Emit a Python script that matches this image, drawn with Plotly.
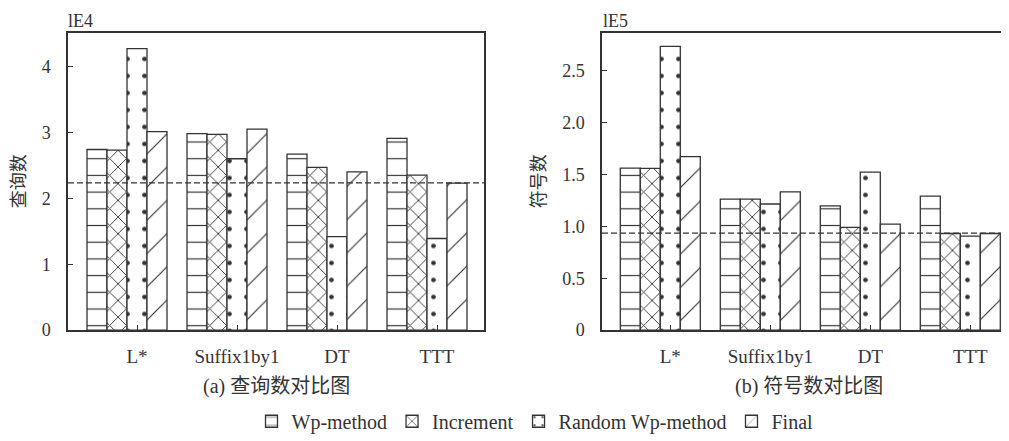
import plotly.graph_objects as go

categories = ["L*", "Suffix1by1", "DT", "TTT"]
series_names = ["Wp-method", "Increment", "Random Wp-method", "Final"]

# (a) query counts, unit 1E4
queries = {
    "Wp-method":        [2.74, 2.98, 2.67, 2.91],
    "Increment":        [2.73, 2.97, 2.47, 2.35],
    "Random Wp-method": [4.27, 2.60, 1.42, 1.39],
    "Final":            [3.01, 3.05, 2.40, 2.23],
}
queries_ref = 2.235

# (b) symbol counts, unit 1E5
symbols = {
    "Wp-method":        [1.56, 1.26, 1.195, 1.29],
    "Increment":        [1.557, 1.26, 0.99, 0.93],
    "Random Wp-method": [2.73, 1.214, 1.52, 0.905],
    "Final":            [1.67, 1.33, 1.02, 0.93],
}
symbols_ref = 0.934

left_ticks = [0, 1, 2, 3, 4]
left_ticktext = ["0", "1", "2", "3", "4"]
right_ticks = [0, 0.5, 1.0, 1.5, 2.0, 2.5]
right_ticktext = ["0", "0.5", "1.0", "1.5", "2.0", "2.5"]

INK = "#333333"
FONT = "Liberation Serif, Times New Roman, Noto Sans CJK SC, serif"
# the page body has an 8px margin, so the figure starts at screen (8, 8)
OFF = 8
W, H = 1009 - OFF, 441 - OFF

patterns = {
    "Wp-method":        dict(shape="-", size=16.7, solidity=0.07),
    "Increment":        dict(shape="x", size=11.8, solidity=0.15),
    "Random Wp-method": dict(shape=".", size=17, solidity=0.06),
    "Final":            dict(shape="/", size=23.5, solidity=0.05),
}
offsets = [-0.5, -0.3, -0.1, 0.1]

fig = go.Figure()
for panel, data, xa, ya in [(0, queries, "x", "y"), (1, symbols, "x2", "y2")]:
    for k, name in enumerate(series_names):
        p = patterns[name]
        fig.add_trace(go.Bar(
            x=categories, y=data[name], name=name,
            width=0.2, offset=offsets[k],
            xaxis=xa, yaxis=ya,
            showlegend=(panel == 0),
            marker=dict(
                color="white",
                line=dict(color=INK, width=1.3),
                pattern=dict(shape=p["shape"], size=p["size"], solidity=p["solidity"],
                             fgcolor=INK, bgcolor="white", fgopacity=1, fillmode="replace"),
            ),
        ))

def px_x(v):
    return (v - OFF) / W

def px_y(v):
    return 1 - (v - OFF) / H

ydom = [px_y(337), px_y(34)]
axis_common = dict(showline=True, linecolor=INK, linewidth=1.5, ticks="inside",
                   ticklen=5, tickcolor=INK, tickwidth=1.2, showgrid=False, zeroline=False)
tickfont_y = dict(family=FONT, size=18, color=INK)
tickfont_x = dict(family=FONT, size=19, color=INK)

fig.update_layout(
    width=W, height=H,
    margin=dict(l=0, r=0, t=0, b=0),
    paper_bgcolor="white", plot_bgcolor="white",
    barmode="overlay",
    font=dict(family=FONT, size=18, color=INK),
    xaxis=dict(domain=[px_x(68), px_x(484)], anchor="y", type="category",
               range=[-0.69, 3.47], mirror=True, ticklabelstandoff=8,
               tickfont=tickfont_x, **axis_common),
    yaxis=dict(domain=ydom, anchor="x", range=[0, 4.5], mirror=True,
               tickvals=left_ticks, ticktext=left_ticktext, ticklabelstandoff=12,
               tickfont=tickfont_y, **axis_common),
    xaxis2=dict(domain=[px_x(602), 1.0], anchor="y2", type="category",
                range=[-0.683, 3.387], mirror=True, ticklabelstandoff=8,
                tickfont=tickfont_x, **axis_common),
    yaxis2=dict(domain=ydom, anchor="x2", range=[0, 2.855], mirror=False,
                tickvals=right_ticks, ticktext=right_ticktext, ticklabelstandoff=12,
                tickfont=tickfont_y, **axis_common),
    legend=dict(orientation="h", x=px_x(535), xanchor="center", y=px_y(430), yanchor="middle",
                font=dict(family=FONT, size=20, color=INK), bgcolor="rgba(0,0,0,0)",
                itemclick=False, itemwidth=30),
)

fig.add_shape(type="line", xref="x domain", yref="y", x0=0, x1=1, y0=queries_ref, y1=queries_ref,
              line=dict(color=INK, width=1.3, dash="6px,3px"), layer="above")
fig.add_shape(type="line", xref="x2 domain", yref="y2", x0=0, x1=1, y0=symbols_ref, y1=symbols_ref,
              line=dict(color=INK, width=1.3, dash="6px,3px"), layer="above")

ann = dict(xref="paper", yref="paper", showarrow=False)
f18 = dict(family=FONT, size=18, color=INK)
f20 = dict(family=FONT, size=20, color=INK)
fig.add_annotation(text="lE4", x=px_x(66), y=px_y(21), xanchor="left", yanchor="middle", font=f18, **ann)
fig.add_annotation(text="lE5", x=px_x(601), y=px_y(21), xanchor="left", yanchor="middle", font=f18, **ann)
fig.add_annotation(text="(a) 查询数对比图", x=px_x(276), y=px_y(395), xanchor="center", yanchor="middle", font=f20, **ann)
fig.add_annotation(text="(b) 符号数对比图", x=px_x(809), y=px_y(395), xanchor="center", yanchor="middle", font=f20, **ann)
fig.add_annotation(text="查询数", x=px_x(19), y=px_y(185), textangle=-90, xanchor="center", yanchor="middle", font=f18, **ann)
fig.add_annotation(text="符号数", x=px_x(539), y=px_y(185), textangle=-90, xanchor="center", yanchor="middle", font=f18, **ann)

fig.write_html("out.html")
